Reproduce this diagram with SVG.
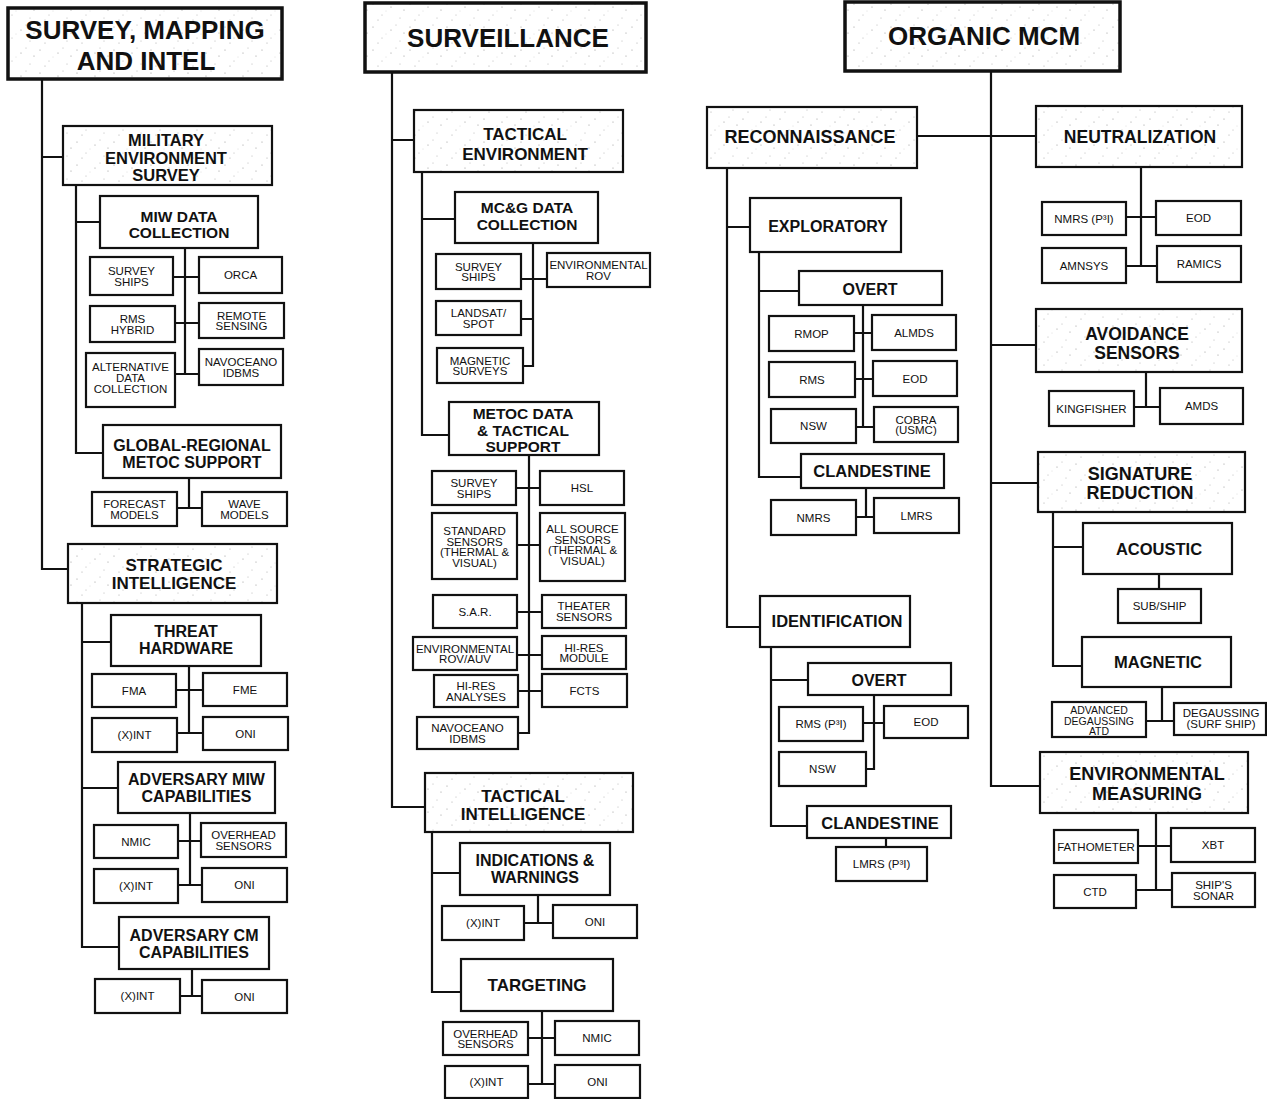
<svg xmlns="http://www.w3.org/2000/svg" width="1267" height="1099" viewBox="0 0 1267 1099">
<defs>
<pattern id="stip" width="37" height="23" patternUnits="userSpaceOnUse">
<rect width="37" height="23" fill="#fff"/>
<circle cx="3" cy="4" r="0.6" fill="#999"/><circle cx="12" cy="15" r="0.5" fill="#aaa"/><circle cx="21" cy="7" r="0.6" fill="#999"/><circle cx="30" cy="18" r="0.5" fill="#aaa"/><circle cx="8" cy="20" r="0.5" fill="#999"/><circle cx="26" cy="2" r="0.5" fill="#aaa"/><circle cx="34" cy="10" r="0.6" fill="#999"/><circle cx="16" cy="11" r="0.4" fill="#bbb"/>
</pattern>
<style>
.b{fill:#fff;stroke:#111;stroke-width:2.2}
.s{fill:url(#stip);stroke:#111;stroke-width:2.2}
.t{fill:url(#stip);stroke:#111;stroke-width:3.5}
.c path{fill:none;stroke:#111;stroke-width:2.2}
text{font-family:"Liberation Sans",Arial,sans-serif;fill:#111;text-anchor:middle}
.h{font-weight:bold}
.l{font-size:11.5px}
.m{font-size:10.5px}
</style>
</defs>
<rect width="1267" height="1099" fill="#fff"/>

<g class="c" id="connectors">
<!-- column 1 -->
<path d="M42 79V569H68M42 157H63"/>
<path d="M76 185V453H103M76 222H100"/>
<path d="M185 248V374M173 277H199M175 323H199M175 374H199"/>
<path d="M189 478V508M177 508H202"/>
<path d="M82 603V947H119M82 642H111M82 788H118"/>
<path d="M189 666V733M176 690H203M177 733H203"/>
<path d="M190 813V885M178 841H201M178 885H202"/>
<path d="M192 969V996M180 996H202"/>
<!-- column 2 -->
<path d="M392 72V807H425M392 140H414"/>
<path d="M422 172V435H449M422 219H455"/>
<path d="M533 243V366H523M521 279H547M521 319H533"/>
<path d="M529 455V733H518M516 488H540M517 545H540M517 612H542M517 655H542M518 691H542"/>
<path d="M432 832V992H461M432 873H460"/>
<path d="M538 895V923M524 923H553"/>
<path d="M542 1011V1084M528 1038H555M528 1084H555"/>
<!-- column 3 -->
<path d="M991 71V786H1040M917 136H1036M991 345H1036M991 483H1038"/>
<path d="M727 168V627H760M727 227H750"/>
<path d="M759 252V477H801M759 291H799"/>
<path d="M863 305V427M854 333H872M855 379H873M856 427H874"/>
<path d="M866 488V517M856 517H874"/>
<path d="M771 647V826H807M771 680H808"/>
<path d="M874 695V769H866M863 723H884"/>
<path d="M886 838V847"/>
<path d="M1141 167V266M1126 217H1156M1126 266H1157"/>
<path d="M1146 372V407M1134 407H1160"/>
<path d="M1053 512V666H1082M1053 547H1083"/>
<path d="M1159 574V589"/>
<path d="M1162 687V721M1146 721H1174"/>
<path d="M1156 813V890M1138 846H1171M1136 890H1172"/>
</g>

<!-- ===== Column 1 ===== -->
<g id="survey-mapping-intel"><rect class="t" x="8" y="8" width="274" height="71"/><text class="h" font-size="26"><tspan x="145" y="39">SURVEY, MAPPING</tspan><tspan x="146" y="70">AND INTEL</tspan></text></g>
<g id="military-environment-survey"><rect class="s" x="63" y="126" width="209" height="59"/><text class="h" font-size="16.5"><tspan x="166" y="146">MILITARY</tspan><tspan x="166" y="163.5">ENVIRONMENT</tspan><tspan x="166" y="181">SURVEY</tspan></text></g>
<g id="miw-data-collection"><rect class="b" x="100" y="196" width="158" height="52"/><text class="h" font-size="15.5"><tspan x="179" y="221.5">MIW DATA</tspan><tspan x="179" y="238">COLLECTION</tspan></text></g>
<g id="c1-survey-ships"><rect class="b" x="90" y="257" width="83" height="38"/><text class="l"><tspan x="131.5" y="275">SURVEY</tspan><tspan x="131.5" y="285.5">SHIPS</tspan></text></g>
<g id="c1-orca"><rect class="b" x="199" y="257" width="83" height="36"/><text class="l" x="240.5" y="279">ORCA</text></g>
<g id="c1-rms-hybrid"><rect class="b" x="90" y="306" width="85" height="36"/><text class="l"><tspan x="132.5" y="323">RMS</tspan><tspan x="132.5" y="333.5">HYBRID</tspan></text></g>
<g id="c1-remote-sensing"><rect class="b" x="199" y="303" width="85" height="35"/><text class="l"><tspan x="241.5" y="319.5">REMOTE</tspan><tspan x="241.5" y="330">SENSING</tspan></text></g>
<g id="c1-alternative-data"><rect class="b" x="86" y="353" width="89" height="54"/><text class="l"><tspan x="130.5" y="371">ALTERNATIVE</tspan><tspan x="130.5" y="382">DATA</tspan><tspan x="130.5" y="393">COLLECTION</tspan></text></g>
<g id="c1-navoceano"><rect class="b" x="199" y="349" width="84" height="36"/><text class="l"><tspan x="241" y="366">NAVOCEANO</tspan><tspan x="241" y="376.5">IDBMS</tspan></text></g>
<g id="global-regional-metoc"><rect class="b" x="103" y="425" width="178" height="53"/><text class="h" font-size="16"><tspan x="192" y="451">GLOBAL-REGIONAL</tspan><tspan x="192" y="468">METOC SUPPORT</tspan></text></g>
<g id="forecast-models"><rect class="b" x="92" y="492" width="85" height="34"/><text class="l"><tspan x="134.5" y="508">FORECAST</tspan><tspan x="134.5" y="518.5">MODELS</tspan></text></g>
<g id="wave-models"><rect class="b" x="202" y="492" width="85" height="34"/><text class="l"><tspan x="244.5" y="508">WAVE</tspan><tspan x="244.5" y="518.5">MODELS</tspan></text></g>
<g id="strategic-intelligence"><rect class="s" x="68" y="544" width="209" height="59"/><text class="h" font-size="17"><tspan x="174" y="571">STRATEGIC</tspan><tspan x="174" y="589">INTELLIGENCE</tspan></text></g>
<g id="threat-hardware"><rect class="b" x="111" y="615" width="150" height="51"/><text class="h" font-size="16"><tspan x="186" y="636.5">THREAT</tspan><tspan x="186" y="653.5">HARDWARE</tspan></text></g>
<g id="c1-fma"><rect class="b" x="92" y="674" width="84" height="33"/><text class="l" x="134" y="694.5">FMA</text></g>
<g id="c1-fme"><rect class="b" x="203" y="673" width="84" height="33"/><text class="l" x="245" y="693.5">FME</text></g>
<g id="c1-xint-a"><rect class="b" x="92" y="718" width="85" height="34"/><text class="l" x="134.5" y="739">(X)INT</text></g>
<g id="c1-oni-a"><rect class="b" x="203" y="717" width="85" height="33"/><text class="l" x="245.5" y="737.5">ONI</text></g>
<g id="adversary-miw"><rect class="b" x="118" y="762" width="157" height="51"/><text class="h" font-size="16"><tspan x="196.5" y="785">ADVERSARY MIW</tspan><tspan x="196.5" y="802">CAPABILITIES</tspan></text></g>
<g id="c1-nmic"><rect class="b" x="94" y="825" width="84" height="33"/><text class="l" x="136" y="845.5">NMIC</text></g>
<g id="c1-overhead"><rect class="b" x="201" y="823" width="85" height="34"/><text class="l"><tspan x="243.5" y="839">OVERHEAD</tspan><tspan x="243.5" y="849.5">SENSORS</tspan></text></g>
<g id="c1-xint-b"><rect class="b" x="94" y="869" width="84" height="34"/><text class="l" x="136" y="890">(X)INT</text></g>
<g id="c1-oni-b"><rect class="b" x="202" y="868" width="85" height="34"/><text class="l" x="244.5" y="889">ONI</text></g>
<g id="adversary-cm"><rect class="b" x="119" y="917" width="150" height="52"/><text class="h" font-size="16"><tspan x="194" y="941">ADVERSARY CM</tspan><tspan x="194" y="958">CAPABILITIES</tspan></text></g>
<g id="c1-xint-c"><rect class="b" x="95" y="979" width="85" height="34"/><text class="l" x="137.5" y="1000">(X)INT</text></g>
<g id="c1-oni-c"><rect class="b" x="202" y="980" width="85" height="33"/><text class="l" x="244.5" y="1000.5">ONI</text></g>

<!-- ===== Column 2 ===== -->
<g id="surveillance"><rect class="t" x="365" y="3" width="281" height="69"/><text class="h" font-size="26" x="508" y="47">SURVEILLANCE</text></g>
<g id="tactical-environment"><rect class="s" x="414" y="110" width="209" height="62"/><text class="h" font-size="17"><tspan x="525" y="140">TACTICAL</tspan><tspan x="525" y="160">ENVIRONMENT</tspan></text></g>
<g id="mcg-data-collection"><rect class="b" x="455" y="192" width="143" height="51"/><text class="h" font-size="15.5"><tspan x="527" y="213">MC&amp;G DATA</tspan><tspan x="527" y="230">COLLECTION</tspan></text></g>
<g id="c2-survey-ships-a"><rect class="b" x="436" y="254" width="85" height="35"/><text class="l"><tspan x="478.5" y="270.5">SURVEY</tspan><tspan x="478.5" y="281">SHIPS</tspan></text></g>
<g id="c2-environmental-rov"><rect class="b" x="547" y="253" width="103" height="34"/><text class="l"><tspan x="598.5" y="269">ENVIRONMENTAL</tspan><tspan x="598.5" y="279.5">ROV</tspan></text></g>
<g id="c2-landsat"><rect class="b" x="436" y="301" width="85" height="34"/><text class="l"><tspan x="478.5" y="317">LANDSAT/</tspan><tspan x="478.5" y="327.5">SPOT</tspan></text></g>
<g id="c2-magnetic-surveys"><rect class="b" x="437" y="348" width="86" height="35"/><text class="l"><tspan x="480" y="364.5">MAGNETIC</tspan><tspan x="480" y="375">SURVEYS</tspan></text></g>
<g id="metoc-tactical-support"><rect class="b" x="449" y="402" width="150" height="53"/><text class="h" font-size="15.5"><tspan x="523" y="419">METOC DATA</tspan><tspan x="523" y="435.5">&amp; TACTICAL</tspan><tspan x="523" y="452">SUPPORT</tspan></text></g>
<g id="c2-survey-ships-b"><rect class="b" x="432" y="471" width="84" height="34"/><text class="l"><tspan x="474" y="487">SURVEY</tspan><tspan x="474" y="497.5">SHIPS</tspan></text></g>
<g id="c2-hsl"><rect class="b" x="540" y="471" width="84" height="34"/><text class="l" x="582" y="492">HSL</text></g>
<g id="c2-standard-sensors"><rect class="b" x="432" y="513" width="85" height="66"/><text class="l"><tspan x="474.5" y="535">STANDARD</tspan><tspan x="474.5" y="545.5">SENSORS</tspan><tspan x="474.5" y="556">(THERMAL &amp;</tspan><tspan x="474.5" y="566.5">VISUAL)</tspan></text></g>
<g id="c2-all-source"><rect class="b" x="540" y="513" width="85" height="68"/><text class="l"><tspan x="582.5" y="533">ALL SOURCE</tspan><tspan x="582.5" y="543.5">SENSORS</tspan><tspan x="582.5" y="554">(THERMAL &amp;</tspan><tspan x="582.5" y="564.5">VISUAL)</tspan></text></g>
<g id="c2-sar"><rect class="b" x="433" y="595" width="84" height="33"/><text class="l" x="475" y="615.5">S.A.R.</text></g>
<g id="c2-theater-sensors"><rect class="b" x="542" y="595" width="84" height="33"/><text class="l"><tspan x="584" y="610">THEATER</tspan><tspan x="584" y="620.5">SENSORS</tspan></text></g>
<g id="c2-environmental-rov-auv"><rect class="b" x="413" y="637" width="104" height="33"/><text class="l"><tspan x="465" y="652.5">ENVIRONMENTAL</tspan><tspan x="465" y="663">ROV/AUV</tspan></text></g>
<g id="c2-hires-module"><rect class="b" x="542" y="636" width="84" height="33"/><text class="l"><tspan x="584" y="651.5">HI-RES</tspan><tspan x="584" y="662">MODULE</tspan></text></g>
<g id="c2-hires-analyses"><rect class="b" x="434" y="675" width="84" height="32"/><text class="l"><tspan x="476" y="690">HI-RES</tspan><tspan x="476" y="700.5">ANALYSES</tspan></text></g>
<g id="c2-fcts"><rect class="b" x="542" y="674" width="85" height="33"/><text class="l" x="584.5" y="694.5">FCTS</text></g>
<g id="c2-navoceano"><rect class="b" x="417" y="717" width="101" height="32"/><text class="l"><tspan x="467.5" y="732">NAVOCEANO</tspan><tspan x="467.5" y="742.5">IDBMS</tspan></text></g>
<g id="tactical-intelligence"><rect class="s" x="425" y="773" width="208" height="59"/><text class="h" font-size="17"><tspan x="523" y="802">TACTICAL</tspan><tspan x="523" y="820">INTELLIGENCE</tspan></text></g>
<g id="indications-warnings"><rect class="b" x="460" y="843" width="150" height="52"/><text class="h" font-size="16"><tspan x="535" y="865.5">INDICATIONS &amp;</tspan><tspan x="535" y="882.5">WARNINGS</tspan></text></g>
<g id="c2-xint-a"><rect class="b" x="442" y="906" width="82" height="34"/><text class="l" x="483" y="927">(X)INT</text></g>
<g id="c2-oni-a"><rect class="b" x="553" y="905" width="84" height="33"/><text class="l" x="595" y="925.5">ONI</text></g>
<g id="targeting"><rect class="b" x="461" y="959" width="152" height="52"/><text class="h" font-size="17" x="537" y="991">TARGETING</text></g>
<g id="c2-overhead"><rect class="b" x="443" y="1022" width="85" height="33"/><text class="l"><tspan x="485.5" y="1037.5">OVERHEAD</tspan><tspan x="485.5" y="1048">SENSORS</tspan></text></g>
<g id="c2-nmic"><rect class="b" x="555" y="1021" width="84" height="34"/><text class="l" x="597" y="1042">NMIC</text></g>
<g id="c2-xint-b"><rect class="b" x="445" y="1066" width="83" height="32"/><text class="l" x="486.5" y="1086">(X)INT</text></g>
<g id="c2-oni-b"><rect class="b" x="555" y="1065" width="85" height="33"/><text class="l" x="597.5" y="1085.5">ONI</text></g>

<!-- ===== Column 3 ===== -->
<g id="organic-mcm"><rect class="t" x="845" y="2" width="275" height="69"/><text class="h" font-size="26" x="984" y="45">ORGANIC MCM</text></g>
<g id="reconnaissance"><rect class="s" x="707" y="107" width="210" height="61"/><text class="h" font-size="18" x="810" y="143">RECONNAISSANCE</text></g>
<g id="neutralization"><rect class="s" x="1036" y="106" width="206" height="61"/><text class="h" font-size="17.5" x="1140" y="143">NEUTRALIZATION</text></g>
<g id="exploratory"><rect class="b" x="750" y="198" width="151" height="54"/><text class="h" font-size="16" x="828" y="232">EXPLORATORY</text></g>
<g id="overt-a"><rect class="b" x="799" y="271" width="143" height="34"/><text class="h" font-size="16" x="870" y="295">OVERT</text></g>
<g id="c3-rmop"><rect class="b" x="769" y="316" width="85" height="35"/><text class="l" x="811.5" y="337.5">RMOP</text></g>
<g id="c3-almds"><rect class="b" x="872" y="315" width="84" height="35"/><text class="l" x="914" y="336.5">ALMDS</text></g>
<g id="c3-rms"><rect class="b" x="769" y="362" width="86" height="35"/><text class="l" x="812" y="383.5">RMS</text></g>
<g id="c3-eod-a"><rect class="b" x="873" y="361" width="84" height="35"/><text class="l" x="915" y="382.5">EOD</text></g>
<g id="c3-nsw-a"><rect class="b" x="771" y="409" width="85" height="34"/><text class="l" x="813.5" y="430">NSW</text></g>
<g id="c3-cobra"><rect class="b" x="874" y="407" width="84" height="35"/><text class="l"><tspan x="916" y="423.5">COBRA</tspan><tspan x="916" y="434">(USMC)</tspan></text></g>
<g id="clandestine-a"><rect class="b" x="801" y="454" width="143" height="34"/><text class="h" font-size="16.5" x="872" y="477">CLANDESTINE</text></g>
<g id="c3-nmrs"><rect class="b" x="771" y="500" width="85" height="35"/><text class="l" x="813.5" y="521.5">NMRS</text></g>
<g id="c3-lmrs"><rect class="b" x="874" y="498" width="85" height="35"/><text class="l" x="916.5" y="519.5">LMRS</text></g>
<g id="identification"><rect class="b" x="760" y="596" width="150" height="51"/><text class="h" font-size="16.5" x="837" y="627">IDENTIFICATION</text></g>
<g id="overt-b"><rect class="b" x="808" y="663" width="143" height="32"/><text class="h" font-size="16" x="879" y="686">OVERT</text></g>
<g id="c3-rms-p3i"><rect class="b" x="779" y="707" width="84" height="34"/><text class="l" x="821" y="728">RMS (P³I)</text></g>
<g id="c3-eod-b"><rect class="b" x="884" y="706" width="84" height="32"/><text class="l" x="926" y="726">EOD</text></g>
<g id="c3-nsw-b"><rect class="b" x="779" y="752" width="87" height="34"/><text class="l" x="822.5" y="773">NSW</text></g>
<g id="clandestine-b"><rect class="b" x="807" y="806" width="144" height="32"/><text class="h" font-size="16.5" x="880" y="829">CLANDESTINE</text></g>
<g id="c3-lmrs-p3i"><rect class="b" x="836" y="847" width="91" height="34"/><text class="l" x="881.5" y="868">LMRS (P³I)</text></g>
<g id="c3-nmrs-p3i"><rect class="b" x="1042" y="202" width="84" height="33"/><text class="l" x="1084" y="222.5">NMRS (P³I)</text></g>
<g id="c3-eod-c"><rect class="b" x="1156" y="201" width="85" height="34"/><text class="l" x="1198.5" y="222">EOD</text></g>
<g id="c3-amnsys"><rect class="b" x="1042" y="248" width="84" height="35"/><text class="l" x="1084" y="269.5">AMNSYS</text></g>
<g id="c3-ramics"><rect class="b" x="1157" y="246" width="84" height="36"/><text class="l" x="1199" y="268">RAMICS</text></g>
<g id="avoidance-sensors"><rect class="s" x="1036" y="309" width="206" height="63"/><text class="h" font-size="17.5"><tspan x="1137" y="340">AVOIDANCE</tspan><tspan x="1137" y="358.5">SENSORS</tspan></text></g>
<g id="c3-kingfisher"><rect class="b" x="1049" y="391" width="85" height="35"/><text class="l" x="1091.5" y="412.5">KINGFISHER</text></g>
<g id="c3-amds"><rect class="b" x="1160" y="388" width="83" height="36"/><text class="l" x="1201.5" y="410">AMDS</text></g>
<g id="signature-reduction"><rect class="s" x="1038" y="452" width="207" height="60"/><text class="h" font-size="18"><tspan x="1140" y="480">SIGNATURE</tspan><tspan x="1140" y="499">REDUCTION</tspan></text></g>
<g id="acoustic"><rect class="b" x="1083" y="523" width="149" height="51"/><text class="h" font-size="16.5" x="1159" y="555">ACOUSTIC</text></g>
<g id="c3-sub-ship"><rect class="b" x="1118" y="589" width="83" height="34"/><text class="l" x="1159.5" y="610">SUB/SHIP</text></g>
<g id="magnetic"><rect class="b" x="1082" y="637" width="149" height="50"/><text class="h" font-size="16.5" x="1158" y="668">MAGNETIC</text></g>
<g id="c3-advanced-degaussing"><rect class="b" x="1052" y="702" width="94" height="35"/><text class="m"><tspan x="1099" y="714">ADVANCED</tspan><tspan x="1099" y="724.5">DEGAUSSING</tspan><tspan x="1099" y="735">ATD</tspan></text></g>
<g id="c3-degaussing-surf"><rect class="b" x="1174" y="703" width="92" height="32"/><text class="l"><tspan x="1221" y="717">DEGAUSSING</tspan><tspan x="1221" y="727.5">(SURF SHIP)</tspan></text></g>
<g id="environmental-measuring"><rect class="s" x="1040" y="752" width="208" height="61"/><text class="h" font-size="18"><tspan x="1147" y="780">ENVIRONMENTAL</tspan><tspan x="1147" y="800">MEASURING</tspan></text></g>
<g id="c3-fathometer"><rect class="b" x="1054" y="830" width="84" height="33"/><text class="l" x="1096" y="850.5">FATHOMETER</text></g>
<g id="c3-xbt"><rect class="b" x="1171" y="828" width="84" height="34"/><text class="l" x="1213" y="849">XBT</text></g>
<g id="c3-ctd"><rect class="b" x="1054" y="875" width="82" height="33"/><text class="l" x="1095" y="895.5">CTD</text></g>
<g id="c3-ships-sonar"><rect class="b" x="1172" y="873" width="83" height="34"/><text class="l"><tspan x="1213.5" y="889">SHIP'S</tspan><tspan x="1213.5" y="899.5">SONAR</tspan></text></g>
</svg>
